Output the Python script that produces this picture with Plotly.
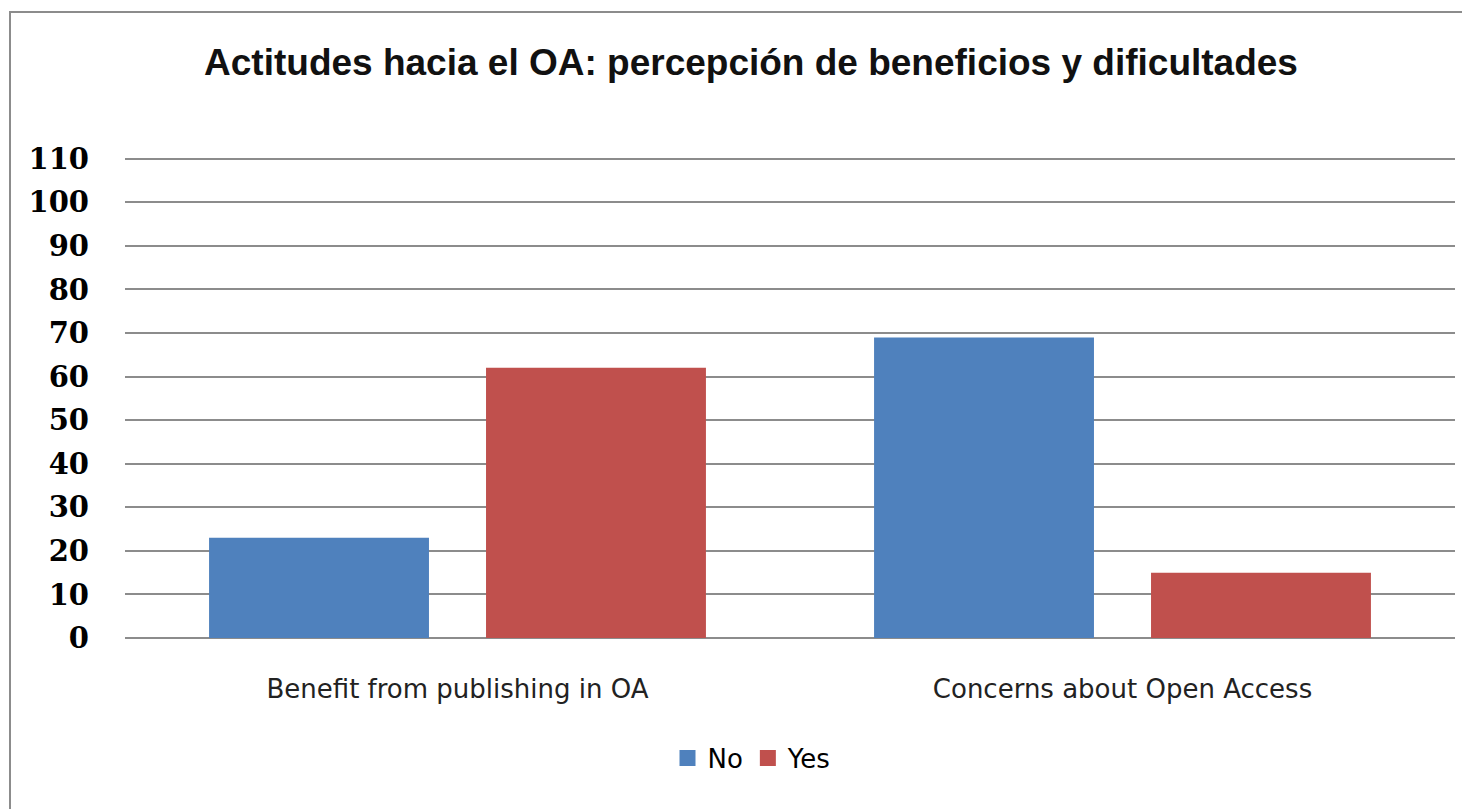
import plotly.graph_objects as go

# data
categories = ["Benefit from publishing in OA", "Concerns about Open Access"]
no_values = [23, 69]
yes_values = [62, 15]
y_ticks = list(range(0, 111, 10))

BLUE, RED = "#4F81BD", "#C0504D"

# page body has an 8px margin, so the figure starts at (8, 8) on screen
OFF = 8
W, H = 1470 - OFF, 809 - OFF
L, R = 125 - OFF, 15
T, B = 157 - OFF, 809 - 638
YMAX = 110.4  # a little headroom so the 110 gridline is drawn

fig = go.Figure()
fig.add_trace(go.Bar(x=categories, y=no_values, name="No", showlegend=False,
                     marker=dict(color=BLUE, line=dict(width=0))))
fig.add_trace(go.Bar(x=categories, y=yes_values, name="Yes", showlegend=False,
                     marker=dict(color=RED, line=dict(width=0))))
# legend entries with bigger square swatches
for name, col in [("No", BLUE), ("Yes", RED)]:
    fig.add_trace(go.Scatter(x=[None], y=[None], mode="markers", name=name,
                             marker=dict(symbol="square", size=20, color=col)))

pw, ph = W - L - R, H - T - B
def px(x):
    return (x - OFF - L) / pw
def py(y):
    return (H - B - (y - OFF)) / ph

# outer chart frame
fig.add_shape(type="rect", xref="paper", yref="paper",
              x0=px(10), x1=px(1480), y0=py(820), y1=py(12),
              line=dict(color="#8c8c8c", width=2), layer="below")

fig.update_layout(
    width=W, height=H,
    margin=dict(l=L, r=R, t=T, b=B),
    paper_bgcolor="white", plot_bgcolor="white",
    barmode="group", bargap=0.167, bargroupgap=0.206,
    title=dict(text="<b>Actitudes hacia el OA: percepción de beneficios y dificultades</b>",
               x=(751 - OFF) / W, xref="container", xanchor="center",
               y=1 - (62 - OFF) / H, yanchor="middle",
               font=dict(family="Liberation Sans", size=37, color="#111")),
    legend=dict(orientation="h", x=px(752), xanchor="center", y=py(758), yanchor="middle",
                font=dict(family="DejaVu Sans", size=26, color="black"),
                traceorder="normal", itemwidth=30, tracegroupgap=0),
    xaxis=dict(showgrid=False, showline=False, ticks="", ticklabelstandoff=33,
               tickfont=dict(family="DejaVu Sans", size=26, color="#222")),
    yaxis=dict(range=[0, YMAX], tickvals=y_ticks, showgrid=True,
               gridcolor="#8c8c8c", gridwidth=1.5, zeroline=True,
               zerolinecolor="#8c8c8c", zerolinewidth=1.5, ticks="",
               ticklabelstandoff=35,
               tickfont=dict(family="DejaVu Serif", size=29, color="black", weight="bold")),
)

fig.write_html("out.html")
